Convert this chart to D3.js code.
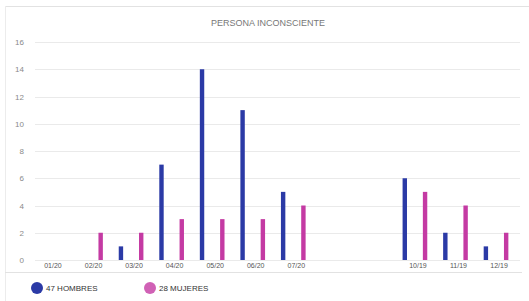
<!DOCTYPE html>
<html><head><meta charset="utf-8">
<script src="https://cdn.jsdelivr.net/npm/d3@7"></script>
<style>body{margin:0;background:#fff}svg{display:block;font-family:"Liberation Sans","Open Sans",sans-serif}</style>
</head><body>
<svg id="c" width="529" height="301"></svg>
<script>
const categories = ["01/20","02/20","03/20","04/20","05/20","06/20","07/20","","","10/19","11/19","12/19"];
const hombres = [0,0,1,7,14,11,5,null,null,6,2,1];
const mujeres = [0,2,2,3,3,3,4,null,null,5,4,2];
const yTicks = [0,2,4,6,8,10,12,14,16];
const legendLabels = ["47 HOMBRES","28 MUJERES"];
const title = "PERSONA INCONSCIENTE";
const colors = ["#2b3aa6","#c43aa3"];

const svg = d3.select("#c");
const idx = categories.map((d,i)=>i);
const x = d3.scaleBand().domain(idx).range([29.7,516.3]).padding(0);
const sub = d3.scalePoint().domain([0,1]).range([0,x.bandwidth()]).padding(0.5);
const y = d3.scaleLinear().domain([0,16]).range([260,42]);

// frame
svg.append("line").attr("x1",5).attr("x2",529).attr("y1",6.5).attr("y2",6.5).attr("stroke","#e2e2e2");
svg.append("line").attr("x1",5.5).attr("x2",5.5).attr("y1",6).attr("y2",301).attr("stroke","#ececec");
svg.append("line").attr("x1",5).attr("x2",522).attr("y1",272.5).attr("y2",272.5).attr("stroke","#e2e2e2");

// grid
svg.append("g").selectAll("line").data(yTicks).join("line")
  .attr("x1",35).attr("x2",520)
  .attr("y1",d=>Math.round(y(d))+0.5).attr("y2",d=>Math.round(y(d))+0.5)
  .attr("stroke","#eaeaea");

// y axis labels
const ya = d3.axisLeft(y).tickValues(yTicks).tickSize(0).tickPadding(0);
const gy = svg.append("g").attr("transform","translate(24,0)").call(ya);
gy.select(".domain").remove();
gy.selectAll("text").attr("fill","#8a8a8a").style("font-size","8px");

// x axis labels
const xa = d3.axisBottom(x).tickFormat(i=>categories[i]).tickSize(0).tickPadding(0);
const gx = svg.append("g").attr("transform","translate(3,263)").call(xa);
gx.select(".domain").remove();
gx.selectAll("text").attr("fill","#555").style("font-size","7px");

// bars
const series = [hombres, mujeres];
series.forEach((s,si)=>{
  svg.append("g").selectAll("rect").data(idx.filter(i=>s[i])).join("rect")
    .attr("x",i=>x(i)+sub(si)-2.2).attr("width",4.4)
    .attr("y",i=>y(s[i])).attr("height",i=>y(0)-y(s[i]))
    .attr("fill",colors[si]);
});

// title
svg.append("text").attr("x",268).attr("y",26).attr("text-anchor","middle")
  .attr("fill","#777").style("font-size","9px").text(title);

// legend
const lx = [37,150];
legendLabels.forEach((t,i)=>{
  svg.append("circle").attr("cx",lx[i]).attr("cy",288).attr("r",6).attr("fill",colors[i]).attr("opacity",i?0.8:1);
  svg.append("text").attr("x",lx[i]+9).attr("y",291).attr("fill","#333").style("font-size","8px").text(t);
});
</script>
</body></html>
